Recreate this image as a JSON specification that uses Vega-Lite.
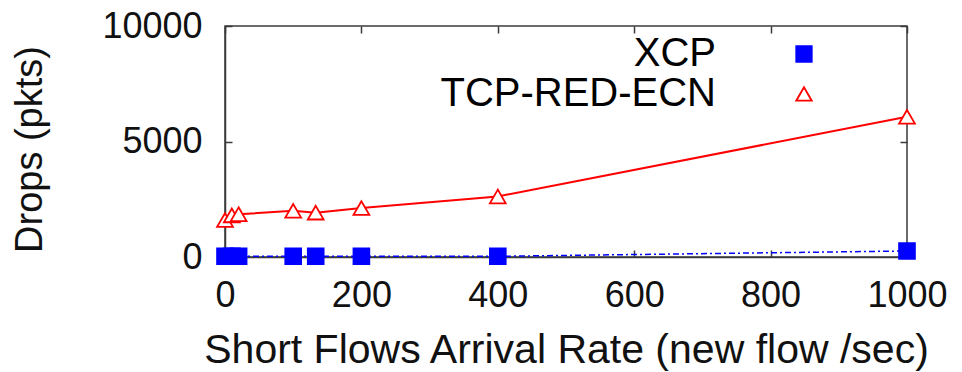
{
  "$schema": "https://vega.github.io/schema/vega-lite/v6.json",
  "width": 682,
  "height": 231,
  "autosize": {"type": "none"},
  "padding": {"left": 225, "top": 26, "right": 55, "bottom": 115},
  "background": "white",
  "config": {
    "font": "Liberation Sans",
    "view": {"stroke": "#3a3a3a", "strokeWidth": 1.5},
    "axis": {
      "grid": false,
      "domainColor": "#3a3a3a",
      "domainWidth": 1.5,
      "tickColor": "#3a3a3a",
      "tickWidth": 1.5,
      "tickSize": -7,
      "labelFlush": false,
      "labelFont": "Liberation Sans",
      "labelFontSize": 36,
      "labelColor": "#111111",
      "titleFont": "Liberation Sans",
      "titleFontWeight": "normal",
      "titleColor": "#111111"
    }
  },
  "data": {
    "values": [
      {"rate": 0, "drops": 30, "series": "XCP"},
      {"rate": 10, "drops": 30, "series": "XCP"},
      {"rate": 20, "drops": 30, "series": "XCP"},
      {"rate": 100, "drops": 30, "series": "XCP"},
      {"rate": 133, "drops": 30, "series": "XCP"},
      {"rate": 200, "drops": 30, "series": "XCP"},
      {"rate": 400, "drops": 30, "series": "XCP"},
      {"rate": 1000, "drops": 260, "series": "XCP"},
      {"rate": 0, "drops": 1600, "series": "TCP-RED-ECN"},
      {"rate": 10, "drops": 1800, "series": "TCP-RED-ECN"},
      {"rate": 20, "drops": 1850, "series": "TCP-RED-ECN"},
      {"rate": 100, "drops": 2000, "series": "TCP-RED-ECN"},
      {"rate": 133, "drops": 1920, "series": "TCP-RED-ECN"},
      {"rate": 200, "drops": 2120, "series": "TCP-RED-ECN"},
      {"rate": 400, "drops": 2620, "series": "TCP-RED-ECN"},
      {"rate": 1000, "drops": 6070, "series": "TCP-RED-ECN"}
    ]
  },
  "encoding": {
    "x": {"field": "rate", "type": "quantitative", "scale": {"domain": [0, 1000], "nice": false, "zero": false}},
    "y": {"field": "drops", "type": "quantitative", "scale": {"domain": [0, 10000], "nice": false}}
  },
  "layer": [
    {
      "transform": [{"filter": "datum.series === 'XCP'"}],
      "mark": {"type": "line", "color": "#0000ff", "strokeWidth": 1.5, "strokeDash": [6, 3, 2, 3], "clip": false},
      "encoding": {
        "x": {"field": "rate", "type": "quantitative", "axis": {
          "values": [0, 200, 400, 600, 800, 1000], "format": "d",
          "labelPadding": 28, "labelBaseline": "top",
          "title": "Short Flows Arrival Rate (new flow /sec)",
          "titleFontSize": 41, "titleBaseline": "alphabetic", "titleAnchor": "middle",
          "titleX": 341, "titleY": 105
        }},
        "y": {"field": "drops", "type": "quantitative", "axis": {
          "values": [0, 5000, 10000], "format": "d",
          "labelPadding": 30,
          "title": "Drops (pkts)",
          "titleFontSize": 38, "titleBaseline": "alphabetic", "titleAngle": -90,
          "titleX": -184, "titleY": 123
        }}
      }
    },
    {
      "transform": [{"filter": "datum.series === 'TCP-RED-ECN'"}],
      "mark": {"type": "line", "color": "#ff0000", "strokeWidth": 2, "clip": false},
      "encoding": {
        "x": {"field": "rate", "type": "quantitative", "axis": {"orient": "top", "values": [0, 200, 400, 600, 800, 1000], "labels": false, "title": null, "domain": false}},
        "y": {"field": "drops", "type": "quantitative", "axis": {"orient": "right", "values": [0, 5000, 10000], "labels": false, "title": null, "domain": false}}
      }
    },
    {
      "mark": {"type": "point", "filled": true, "size": 250, "strokeWidth": 1.8, "opacity": 1, "clip": false},
      "encoding": {
        "x": {"field": "rate", "type": "quantitative", "axis": null},
        "y": {"field": "drops", "type": "quantitative", "axis": null},
        "shape": {"field": "series", "type": "nominal", "scale": {"domain": ["XCP", "TCP-RED-ECN"], "range": ["square", "triangle-up"]}, "legend": {
          "title": null,
          "orient": "none",
          "legendX": 559,
          "legendY": 8,
          "labelFontSize": 40,
          "labelFont": "Liberation Sans",
          "labelAlign": "right",
          "labelOffset": -108,
          "labelLimit": 0,
          "rowPadding": 0,
          "symbolSize": 240,
          "symbolStrokeWidth": 1.8,
          "encode": {"labels": {"update": {"fill": {"signal": "datum.label === 'XCP' ? '#0000ff' : '#ff0000'"}}}}
        }},
        "fill": {"field": "series", "type": "nominal", "scale": {"domain": ["XCP", "TCP-RED-ECN"], "range": ["#0000ff", "#ffffff"]}, "legend": null},
        "stroke": {"field": "series", "type": "nominal", "scale": {"domain": ["XCP", "TCP-RED-ECN"], "range": ["#0000ff", "#ff0000"]}, "legend": null}
      }
    }
  ],
  "resolve": {"axis": {"x": "independent", "y": "independent"}}
}
